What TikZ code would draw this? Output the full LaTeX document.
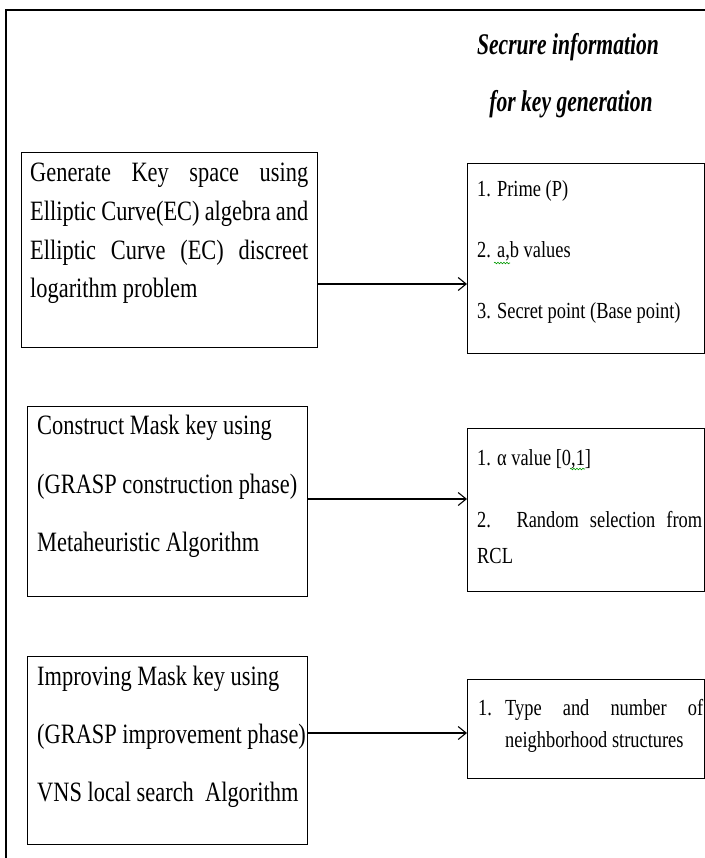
\documentclass[tikz,border=0pt]{standalone}
\usepackage{fontspec}
\setmainfont[FakeStretch=0.8]{Liberation Serif}
\newfontfamily\ttlfont[FakeStretch=0.72]{Liberation Serif}
\usetikzlibrary{arrows.meta,decorations.pathmorphing}
\begin{document}
\begin{tikzpicture}[x=1bp,y=-1bp,
  box/.style={draw=black, line width=1.3bp, inner sep=0pt, anchor=north west},
  lt/.style={anchor=base west, inner sep=0pt, font=\fontsize{28bp}{30bp}\selectfont},
  rt/.style={anchor=base west, inner sep=0pt, font=\fontsize{23bp}{25bp}\selectfont},
  ttl/.style={anchor=base, inner sep=0pt, font=\ttlfont\fontsize{30bp}{32bp}\selectfont\bfseries\itshape},
  arr/.style={-{Straight Barb[length=8bp,width=13bp]}, line width=1.1bp},
  squig/.style={draw=green!60!black, line width=0.6bp, decorate, decoration={snake, amplitude=0.8bp, segment length=3bp}}]
\useasboundingbox (0,0) rectangle (705,858);
% outer frame
\draw[line width=1.2bp] (6,858) -- (6,10) -- (705,10);
% title
\node[ttl] (t1) at (568,54) {Secrure information};
\node[ttl] (t2) at (571,111) {for key generation};
% boxes
\node[box, minimum width=296bp, minimum height=195bp] (B1) at (21,152) {};
\node[box, minimum width=237bp, minimum height=190bp] (R1) at (467,163) {};
\node[box, minimum width=280bp, minimum height=190bp] (B2) at (27,406) {};
\node[box, minimum width=237bp, minimum height=163bp] (R2) at (467,428) {};
\node[box, minimum width=280bp, minimum height=188bp] (B3) at (27,656) {};
\node[box, minimum width=237bp, minimum height=99bp] (R3) at (467,679) {};
% box 1 text
\node[lt] (b1a) at (30,181) {\makebox[278bp][s]{Generate Key space using}};
\node[lt] (b1b) at (30,220) {\makebox[278bp][s]{Elliptic Curve(EC) algebra and}};
\node[lt] (b1c) at (30,259) {\makebox[278bp][s]{Elliptic Curve (EC) discreet}};
\node[lt] (b1d) at (30,297) {logarithm problem};
% box 2 text
\node[lt] (b2a) at (37,434) {Construct Mask key using};
\node[lt] (b2b) at (37,493) {(GRASP construction phase)};
\node[lt] (b2c) at (37,551) {Metaheuristic Algorithm};
% box 3 text
\node[lt] (b3a) at (37,685) {Improving Mask key using};
\node[lt] (b3b) at (37,743) {(GRASP improvement phase)};
\node[lt] (b3c) at (37,801) {VNS local search~ Algorithm};
% right box 1
\node[rt] (r1a) at (477,196) {1. Prime (P)};
\node[rt] (r1b) at (477,257) {2. a,b values};
\node[rt] (r1c) at (477,318) {3. Secret point (Base point)};
% right box 2
\node[rt] (r2a) at (477,465) {1. α value [0,1]};
\node[rt] (r2b) at (477,527) {\makebox[225bp][s]{2. Random selection from}};
\node[rt] (r2c) at (477,563) {RCL};
% right box 3
\node[rt] (r3n) at (478,715) {1.};
\node[rt] (r3a) at (505,715) {\makebox[198bp][s]{Type and number of}};
\node[rt] (r3b) at (505,747) {neighborhood structures};
% spell-check marks
\coordinate (s1a) at (494,263);
\coordinate (s1b) at (510,263);
\draw[squig] (s1a) -- (s1b);
\coordinate (s2a) at (570,469);
\coordinate (s2b) at (585,469);
\draw[squig] (s2a) -- (s2b);
% arrows
\coordinate (y1) at (0,284);
\coordinate (y2) at (0,499);
\coordinate (y3) at (0,733);
\draw[arr] (B1.east |- y1) -- (R1.west |- y1);
\draw[arr] (B2.east |- y2) -- (R2.west |- y2);
\draw[arr] (B3.east |- y3) -- (R3.west |- y3);
\end{tikzpicture}
\end{document}
